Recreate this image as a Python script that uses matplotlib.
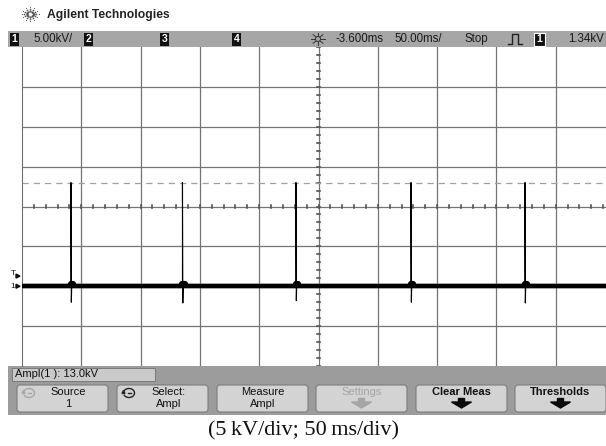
import numpy as np
import matplotlib
matplotlib.use("Agg")
import matplotlib.pyplot as plt
from matplotlib.patches import Rectangle, FancyBboxPatch, Arc, Polygon

# ---- acquisition settings and measured values ----
volts_per_div_kv = 5.0
time_per_div_ms = 50.0
delay_ms = -3.600
trigger_level_kv = 1.34
measured_ampl_kv = 13.0

# pulse train: times of each discharge spike (ms) and its extremes (kV)
spike_times_ms = [-212.3, -118.3, -22.6, 74.4, 170.5]
spike_peak_kv = [13.0, 13.0, 13.0, 13.0, 13.0]
spike_dip_kv = [-2.0, -2.1, -1.8, -2.0, -2.1]
baseline_kv = 0.0
ground_offset_div = -2.0          # where 0 kV sits on the screen

button_labels = ["Source\n1", "Select:\nAmpl", "Measure\nAmpl", "Settings",
                 "Clear Meas", "Thresholds"]

W, H = 606, 446
fig = plt.figure(figsize=(W / 100, H / 100), dpi=100)
fig.patch.set_facecolor("white")

# overlay axes in pixel units for the instrument frame
ov = fig.add_axes([0, 0, 1, 1])
ov.set_xlim(0, W)
ov.set_ylim(H, 0)
ov.axis("off")

SANS = ["Liberation Sans", "DejaVu Sans"]
TXT = "#1a1a1a"

# ---- header: logo and brand ----
cx, cy = 30, 14
for ang in np.arange(0, 360, 30):
    r = np.deg2rad(ang)
    for rr, sz in [(3.5, 1.6), (6.0, 1.2), (8.5, 0.8)]:
        ov.plot(cx + rr * np.cos(r), cy + rr * np.sin(r) * 0.8, "o",
                ms=sz, color="#555555", mec="none")
ov.text(47, 15, "Agilent Technologies", fontsize=8.7, fontweight="bold",
        family=SANS, va="center", ha="left", color="#222222")

# ---- top status bar ----
ov.add_patch(Rectangle((8, 31), W - 8, 16, facecolor="#a6a6a6", edgecolor="none"))


def chan_box(x, label):
    ov.add_patch(Rectangle((x, 32.5), 8.5, 13, facecolor="#111111", edgecolor="none"))
    ov.text(x + 4.25, 39.3, label, fontsize=7.5, fontweight="bold", color="white",
            ha="center", va="center", family=SANS)


chan_box(10, "1")
ov.text(53, 39, "5.00kV/", fontsize=8.3, ha="center", va="center", family=SANS, color=TXT)
chan_box(84, "2")
chan_box(160, "3")
chan_box(232, "4")
# trigger/delay sun icon
for ang in np.arange(0, 360, 45):
    r = np.deg2rad(ang)
    ov.plot([318 + 3 * np.cos(r), 318 + 7 * np.cos(r)],
            [39 + 3 * np.sin(r), 39 + 6 * np.sin(r)], color="#333333", lw=0.7)
ov.add_patch(plt.Circle((318, 39), 2.5, facecolor="none", edgecolor="#333333", lw=0.7))
ov.text(360, 39, f"{delay_ms:.3f}ms", fontsize=8.3, ha="center", va="center",
        family=SANS, color=TXT)
ov.text(418, 39, f"{time_per_div_ms:.2f}ms/", fontsize=8.3, ha="center", va="center",
        family=SANS, color=TXT)
ov.text(476, 39, "Stop", fontsize=8.3, ha="center", va="center", family=SANS, color=TXT)
ov.plot([508, 512, 512, 518, 518, 522], [44, 44, 34, 34, 44, 44], color="#222222", lw=1.0)
ov.add_patch(Rectangle((534, 32.5), 11, 13, facecolor="#111111", edgecolor="white", lw=0.8))
ov.text(539.5, 39.3, "1", fontsize=7.5, fontweight="bold", color="white",
        ha="center", va="center", family=SANS)
ov.text(586, 39, f"{trigger_level_kv:.2f}kV", fontsize=8.3, ha="center", va="center",
        family=SANS, color=TXT)

# ---- scope screen ----
scr_left, scr_top, scr_bottom = 22, 47, 366
div_px = 59.3
scr_w = 10 * div_px
ax = fig.add_axes([scr_left / W, (H - scr_bottom) / H, scr_w / W, (scr_bottom - scr_top) / H])
t_left = delay_ms - 5 * time_per_div_ms
t_right = delay_ms + 5 * time_per_div_ms
v_bottom = (-4 - ground_offset_div) * volts_per_div_kv
v_top = (4 - ground_offset_div) * volts_per_div_kv
v_center = -ground_offset_div * volts_per_div_kv
ax.set_xlim(t_left, t_right)
ax.set_ylim(v_bottom, v_top)
ax.set_xticks([])
ax.set_yticks([])
for s in ax.spines.values():
    s.set_visible(False)
ax.spines["left"].set_visible(True)
ax.spines["left"].set_color("#6e6e6e")

grid_col = "#747474"
for k in range(1, 10):
    ax.axvline(t_left + k * time_per_div_ms, color=grid_col, lw=0.9, zorder=1)
for k in range(1, 8):
    ax.axhline(v_bottom + k * volts_per_div_kv, color=grid_col, lw=0.9, zorder=1)

# minor tick marks along the centre crosshair
for k in range(51):
    tt = t_left + k * time_per_div_ms / 5
    ax.plot([tt, tt], [v_center - 0.22, v_center + 0.22], color="#555555", lw=1.2, zorder=1)
for k in range(41):
    vv = v_bottom + k * volts_per_div_kv / 5
    ax.plot([delay_ms - 0.9, delay_ms + 0.9], [vv, vv], color="#555555", lw=1.2, zorder=1)

# measurement marker at the measured top level
ax.axhline(baseline_kv + measured_ampl_kv, color="#a0a0a0", lw=0.9, ls=(0, (5, 4)), zorder=1)

# trace: baseline plus the discharge spikes
ax.plot([t_left, t_right], [baseline_kv, baseline_kv], color="black", lw=3.0,
        solid_capstyle="butt", zorder=3)
ax.plot([t_left, t_right], [baseline_kv, baseline_kv], color="#555555", lw=4.2,
        alpha=0.45, solid_capstyle="butt", zorder=2)
for t0, vp, vd in zip(spike_times_ms, spike_peak_kv, spike_dip_kv):
    ax.plot([t0, t0, t0 + 0.3, t0 + 0.6], [baseline_kv, vp, vd, baseline_kv],
            color="black", lw=0.8, zorder=4)
    ax.plot([t0, t0 + 2.0], [baseline_kv + 0.3, baseline_kv + 0.3], color="black", lw=4.5,
            solid_capstyle="round", zorder=3)

# ---- left-edge markers (trigger level and channel ground) ----
def v_to_px(v):
    return scr_bottom - (v - v_bottom) / (v_top - v_bottom) * (scr_bottom - scr_top)


ty = v_to_px(trigger_level_kv)
gy = v_to_px(baseline_kv)
ov.text(13, ty - 2, "T", fontsize=6, ha="center", va="center", family=SANS, color="#111111")
ov.add_patch(Polygon([[16, ty - 1.5], [20, ty + 0.5], [16, ty + 2.5]], color="#111111"))
ov.text(13, gy, "1", fontsize=6, ha="center", va="center", family=SANS, color="#111111")
ov.add_patch(Polygon([[16, gy - 2], [20, gy], [16, gy + 2]], color="#111111"))

# ---- bottom soft-key panel ----
ov.add_patch(Rectangle((8, scr_bottom), W - 8, 415 - scr_bottom,
                       facecolor="#9c9c9c", edgecolor="none"))
ov.add_patch(Rectangle((12, 367.5), 143, 13, facecolor="#cacaca", edgecolor="#7a7a7a", lw=0.7))
ov.text(15, 374.3, f"Ampl(1 ): {measured_ampl_kv:.1f}kV", fontsize=8.0, ha="left",
        va="center", family=SANS, color="#111111")

btn_x = [17, 117, 217, 316, 416, 515]
btn_w = 91
for bx, lab in zip(btn_x, button_labels):
    ov.add_patch(FancyBboxPatch((bx, 385), btn_w, 27, boxstyle="round,pad=0,rounding_size=3",
                                facecolor="#d3d3d3", edgecolor="#7d7d7d", lw=0.8))
    grey = lab == "Settings"
    col = "#a5a5a5" if grey else "#111111"
    if "\n" in lab:
        top, bot = lab.split("\n")
        ox = 6 if lab.startswith(("Source", "Select")) else 0
        ov.text(bx + btn_w / 2 + ox, 392, top, fontsize=8.0, ha="center", va="center",
                family=SANS, color=col)
        ov.text(bx + btn_w / 2 + ox, 404, bot, fontsize=8.0, ha="center", va="center",
                family=SANS, color=col)
    else:
        ov.text(bx + btn_w / 2, 392, lab, fontsize=8.0, ha="center", va="center",
                family=SANS, color=col, fontweight="bold" if not grey else "normal")
        acol = "#a5a5a5" if grey else "#0a0a0a"
        ax0 = bx + btn_w / 2
        ov.add_patch(Polygon([[ax0 - 3, 398.5], [ax0 + 3, 398.5], [ax0 + 3, 402],
                              [ax0 + 10, 402], [ax0, 408], [ax0 - 10, 402], [ax0 - 3, 402]],
                             color=acol))

# rotary-knob icons on the first two keys
for bx, icol in [(btn_x[0], "#a8a8a8"), (btn_x[1], "#222222")]:
    kx, ky = bx + 12, 393
    ov.add_patch(Arc((kx, ky), 11, 9, theta1=200, theta2=520, color=icol, lw=1.0))
    ov.plot([kx - 1.5, kx + 1.5], [ky, ky], color=icol, lw=1.0)
    ov.add_patch(Polygon([[kx - 7, ky + 0.5], [kx - 4, ky + 0.5], [kx - 5.5, ky - 2.5]], color=icol))

# ---- caption ----
ov.text(W / 2 + 1, 431, "(5\u2009kV/div; 50\u2009ms/div)", fontsize=16, ha="center",
        va="center", family=["Liberation Serif", "DejaVu Serif"], color="#111111")

fig.savefig("out.png", dpi=100)
